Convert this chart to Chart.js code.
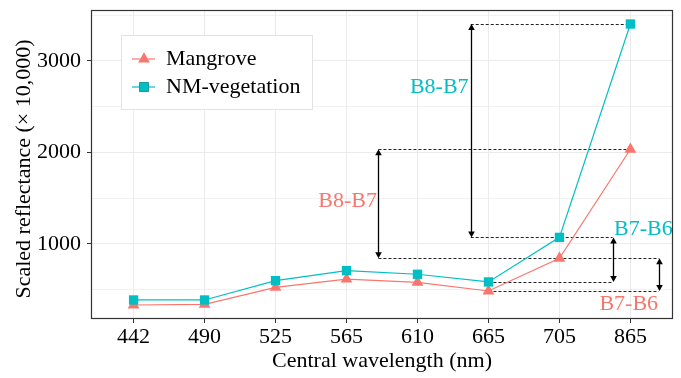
<!DOCTYPE html>
<html><head><meta charset="utf-8">
<script src="https://cdn.jsdelivr.net/npm/chart.js@4.4.1/dist/chart.umd.min.js"></script>
<style>html,body{margin:0;padding:0;background:#fff}#wrap{width:681px;height:378px}</style>
</head><body><div id="wrap"><canvas id="c" width="681" height="378"></canvas></div>
<script>
// ---- data ----
const categories = ['442', '490', '525', '565', '610', '665', '705', '865'];
const mangrove = [333, 340, 525, 615, 581, 486, 843, 2035];
const nmVegetation = [388, 388, 599, 708, 669, 585, 1072, 3404];
const seriesNames = ['Mangrove', 'NM-vegetation'];
const yTickLabels = [1000, 2000, 3000];
const yGridValues = [500, 1000, 1500, 2000, 2500, 3000, 3500];
const diffLabels = ['B8-B7', 'B7-B6'];
const yTitle = 'Scaled reflectance (× 10,000)';
const xTitle = 'Central wavelength (nm)';

const FONT = '"Liberation Serif", "Times New Roman", serif';
const RED = '#F8766D', CYAN = '#00BFC4';

// annotation layout (positions in category units, values read from the series arrays)
const arrows = [
  {series: nmVegetation, from: 7, to: 6, x: 4.75, dashTop: [4.75, 7], dashBot: [4.75, 6.75]},
  {series: nmVegetation, from: 6, to: 5, x: 6.75, dashTop: null, dashBot: [5, 6.75]},
  {series: mangrove, from: 7, to: 6, x: 3.45, dashTop: [3.45, 7], dashBot: [3.45, 7.4]},
  {series: mangrove, from: 6, to: 5, x: 7.4, dashTop: null, dashBot: [5, 7.4]}
];
const labels = [
  {text: diffLabels[0], color: CYAN, x: 4.72, y: 2716, align: 'right'},
  {text: diffLabels[0], color: RED, x: 3.43, y: 1464, align: 'right'},
  {text: diffLabels[1], color: CYAN, x: 6.77, y: 1164, align: 'left'},
  {text: diffLabels[1], color: RED, x: 7.39, y: 344, align: 'right'}
];

function mk(label, vals, color, style, r, order) {
  return {
    label, data: vals.map((v, i) => ({x: i, y: v})),
    borderColor: color, backgroundColor: color, borderWidth: 1.2,
    pointStyle: style, pointRadius: r, pointHoverRadius: r, pointBorderWidth: 0,
    order, tension: 0
  };
}

const annot = {
  id: 'annot',
  beforeDatasetsDraw(chart) {
    const {ctx, scales: {x, y}} = chart;
    ctx.save();
    ctx.strokeStyle = '#222';
    ctx.lineWidth = 1;
    ctx.setLineDash([3, 2]);
    arrows.forEach(a => {
      const segs = [];
      if (a.dashTop) segs.push([a.dashTop, a.series[a.from]]);
      if (a.dashBot) segs.push([a.dashBot, a.series[a.to]]);
      segs.forEach(([xs, v]) => {
        const py = Math.round(y.getPixelForValue(v)) + 0.5;
        ctx.beginPath();
        ctx.moveTo(x.getPixelForValue(xs[0]), py);
        ctx.lineTo(x.getPixelForValue(xs[1]), py);
        ctx.stroke();
      });
    });
    ctx.setLineDash([]);
    ctx.lineWidth = 1.3;
    ctx.fillStyle = '#000';
    ctx.strokeStyle = '#000';
    arrows.forEach(a => {
      const px = Math.round(x.getPixelForValue(a.x)) + 0.5;
      const y1 = y.getPixelForValue(a.series[a.from]);
      const y2 = y.getPixelForValue(a.series[a.to]);
      const hl = 6, hw = 3.3;
      ctx.beginPath();
      ctx.moveTo(px, y1 + hl - 1);
      ctx.lineTo(px, y2 - hl + 1);
      ctx.stroke();
      ctx.beginPath();
      ctx.moveTo(px, y1); ctx.lineTo(px - hw, y1 + hl); ctx.lineTo(px + hw, y1 + hl); ctx.closePath(); ctx.fill();
      ctx.beginPath();
      ctx.moveTo(px, y2); ctx.lineTo(px - hw, y2 - hl); ctx.lineTo(px + hw, y2 - hl); ctx.closePath(); ctx.fill();
    });
    ctx.font = '22px ' + FONT;
    ctx.textBaseline = 'middle';
    labels.forEach(l => {
      ctx.fillStyle = l.color;
      ctx.textAlign = l.align;
      ctx.fillText(l.text, x.getPixelForValue(l.x), y.getPixelForValue(l.y));
    });
    ctx.restore();
  },
  afterDraw(chart) {
    const {ctx, chartArea: ca} = chart;
    ctx.save();
    // y axis title
    ctx.fillStyle = '#000';
    ctx.font = '22px ' + FONT;
    ctx.textAlign = 'center';
    ctx.textBaseline = 'middle';
    ctx.translate(24, (ca.top + ca.bottom) / 2 + 4.5);
    ctx.rotate(-Math.PI / 2);
    ctx.fillText(yTitle, 0, 0);
    ctx.setTransform(1, 0, 0, 1, 0, 0);
    // legend
    const lx = ca.left + 30, ly = ca.top + 25, lw = 191, lh = 74;
    ctx.fillStyle = '#fff';
    ctx.fillRect(lx, ly, lw, lh);
    ctx.strokeStyle = '#E3E3E3';
    ctx.lineWidth = 1;
    ctx.strokeRect(lx + 0.5, ly + 0.5, lw, lh);
    const order = [1, 0];
    order.forEach((di, k) => {
      const d = chart.data.datasets[di];
      const cy = ly + 24 + k * 28;
      ctx.strokeStyle = d.borderColor;
      ctx.lineWidth = 1.2;
      ctx.beginPath(); ctx.moveTo(lx + 11, cy); ctx.lineTo(lx + 34, cy); ctx.stroke();
      Chart.helpers.drawPoint(ctx, {pointStyle: d.pointStyle, radius: d.pointRadius, borderWidth: 0, rotation: 0}, lx + 23, cy);
      ctx.fillStyle = d.backgroundColor;
      ctx.fill();
      ctx.fillStyle = '#000';
      ctx.font = '22px ' + FONT;
      ctx.textAlign = 'left';
      ctx.textBaseline = 'middle';
      ctx.fillText(d.label, lx + 45, cy);
    });
    // panel border
    ctx.strokeStyle = '#333';
    ctx.lineWidth = 1.2;
    ctx.strokeRect(Math.round(ca.left) + 0.5, Math.round(ca.top) + 0.5, Math.round(ca.right - ca.left) - 1, Math.round(ca.bottom - ca.top) - 1);
    ctx.restore();
  }
};

new Chart(document.getElementById('c'), {
  type: 'line',
  data: {
    datasets: [
      mk(seriesNames[1], nmVegetation, CYAN, 'rect', 6.6, 0),
      mk(seriesNames[0], mangrove, RED, 'triangle', 6.8, 1)
    ]
  },
  options: {
    responsive: false, animation: false, devicePixelRatio: 1,
    layout: {padding: {left: 0, right: 8, top: 10, bottom: 0}},
    plugins: {legend: {display: false}, tooltip: {enabled: false}},
    scales: {
      x: {
        type: 'linear', min: -0.6, max: 7.6,
        afterBuildTicks(s) { s.ticks = categories.map((c, i) => ({value: i})); },
        afterFit(s) { s.height = 59; s.paddingLeft = 0; s.paddingRight = 0; },
        ticks: {autoSkip: false, maxRotation: 0,
          callback: v => categories[v] !== undefined ? categories[v] : '',
          color: '#000', font: {family: FONT, size: 22}, padding: 1},
        grid: {color: '#EBEBEB', lineWidth: 1, tickLength: 4, tickColor: '#333'},
        border: {display: false},
        title: {display: true, text: xTitle, color: '#000',
          font: {family: FONT, size: 22}, padding: {top: 0, bottom: 4}}
      },
      y: {
        min: 180, max: 3557,
        afterBuildTicks(s) { s.ticks = yGridValues.map(v => ({value: v})); },
        afterFit(s) { s.width = 91; s.paddingTop = 0; s.paddingBottom = 0; },
        ticks: {autoSkip: false,
          callback: v => yTickLabels.includes(v) ? String(v) : '',
          color: '#000', font: {family: FONT, size: 22}, padding: 6},
        grid: {color: '#EBEBEB',
          lineWidth: c => yTickLabels.includes(c.tick && c.tick.value) ? 1 : 0.7,
          tickLength: 4,
          tickColor: c => yTickLabels.includes(c.tick && c.tick.value) ? '#333' : 'rgba(0,0,0,0)'},
        border: {display: false},
        title: {display: false}
      }
    }
  },
  plugins: [annot]
});
</script></body></html>
